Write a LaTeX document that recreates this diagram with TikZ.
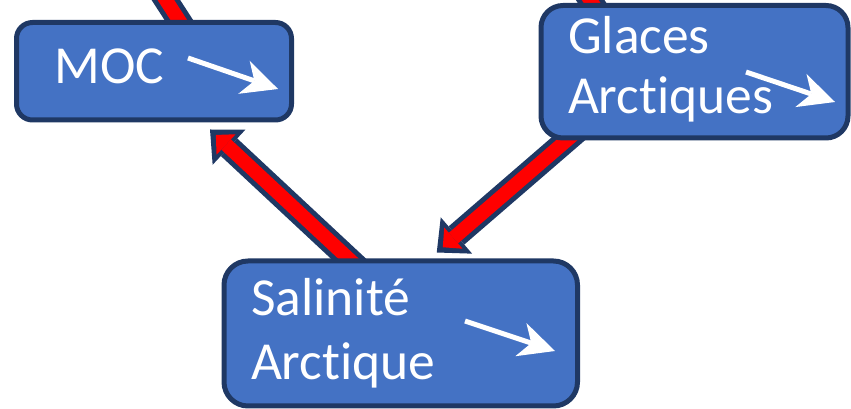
\documentclass[tikz,border=0pt]{standalone}
\usepackage{fontspec}
\setmainfont{Carlito}[Ligatures=NoCommon]
\usepackage{tikz}
\usepackage{xcolor}
\usetikzlibrary{arrows.meta,backgrounds}
\definecolor{boxblue}{HTML}{4472C4}
\definecolor{boxnavy}{HTML}{1F3864}

\begin{document}
\begin{tikzpicture}[x=1pt,y=1pt,
  box/.style={draw=boxnavy,fill=boxblue,line width=5,text=white,align=left,inner ysep=0,text height=36},
  link/.style={draw=boxnavy,line width=24,-{Triangle[length=26,width=48,line width=0pt]}},
  linkcore/.style={draw=red,line width=14,shorten >=8,-{Triangle[length=14,width=28,line width=0pt]}},
  trend/.style={draw=white,line width=5,-{Stealth[length=36,width=35,inset=11,line width=0pt]}}]
\useasboundingbox (0,0) rectangle (851,409);
\clip (0,0) rectangle (851,409);
\node[box,minimum width=275,minimum height=97.5,rounded corners=16,inner xsep=38,text width=199,
  text depth=12,font=\fontsize{53.5}{60}\selectfont] (moc) at (154,337.75) {MOC};
\node[box,minimum width=307,minimum height=132.5,rounded corners=22,inner xsep=27,text width=253,
  text depth=73,font=\fontsize{53.5}{60}\selectfont] (glaces) at (694.5,337.25) {Glaces\\Arctiques};
\node[box,minimum width=353.5,minimum height=145,rounded corners=24,inner xsep=27,text width=299.5,
  text depth=71,font=\fontsize{53.5}{64}\selectfont] (sal) at (400.75,75.5) {Salinité\\Arctique};
\coordinate (up1) at (127,469);
\coordinate (up2) at (551,469);
\begin{scope}[on background layer]
\draw[link] ([xshift=28]sal.center) -- ([xshift=56,yshift=-7]moc.south);
\draw[linkcore] ([xshift=28]sal.center) -- ([xshift=56,yshift=-7]moc.south);
\draw[link] ([xshift=-48.5]glaces.center) -- ([xshift=36,yshift=6]sal.north);
\draw[linkcore] ([xshift=-48.5]glaces.center) -- ([xshift=36,yshift=6]sal.north);
\draw[link] ([xshift=58]moc.center) -- (up1);
\draw[linkcore] ([xshift=58]moc.center) -- (up1);
\draw[link] ([xshift=-57.5]glaces.center) -- (up2);
\draw[linkcore] ([xshift=-57.5]glaces.center) -- (up2);
\end{scope}
\draw[trend] ([shift={(34,13.25)}]moc.center) -- ([shift={(124,-17.75)}]moc.center);
\draw[trend] ([shift={(51.5,-0.25)}]glaces.center) -- ([shift={(140.5,-30.25)}]glaces.center);
\draw[trend] ([shift={(64.25,12.5)}]sal.center) -- ([shift={(154.25,-17.5)}]sal.center);
\end{tikzpicture}
\end{document}
